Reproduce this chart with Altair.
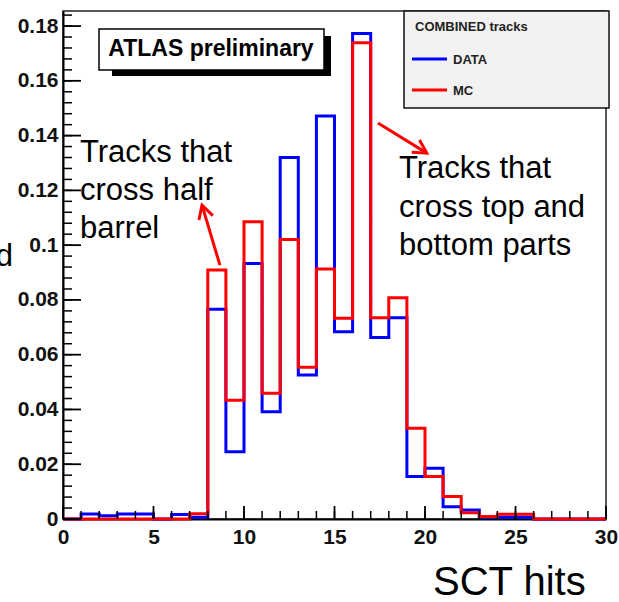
import altair as alt
import pandas as pd

# Histogram of SCT hits per track: unit-width bins from 0 to 30
lower_edges = list(range(30))
data_counts = [0.0, 0.0018, 0.0012, 0.0018, 0.0018, 0.0, 0.0016, 0.0006,
               0.0766, 0.0246, 0.0933, 0.0392, 0.1320, 0.0526, 0.1472,
               0.0684, 0.1773, 0.0663, 0.0735, 0.0155, 0.0185, 0.0045,
               0.0033, 0.0006, 0.0006, 0.0006, 0.0, 0.0, 0.0, 0.0]
mc_counts = [0.0, 0.0, 0.0, 0.0, 0.0, 0.0, 0.0, 0.0019,
             0.0909, 0.0434, 0.1085, 0.0459, 0.1021, 0.0554, 0.0913,
             0.0733, 0.1739, 0.0735, 0.0808, 0.0331, 0.0155, 0.0082,
             0.0023, 0.0009, 0.0017, 0.0017, 0.0, 0.0, 0.0, 0.0]
series_names = ["DATA", "MC"]
series_colors = ["#0000ff", "#ff0000"]

# Axis ticks (ROOT style: drawn inside the frame)
y_major = [0, 0.02, 0.04, 0.06, 0.08, 0.1, 0.12, 0.14, 0.16, 0.18]
y_minor = [i * 0.004 for i in range(47)]
x_major = [0, 5, 10, 15, 20, 25, 30]
x_minor = list(range(31))

# Arrow annotations: (x start, y start, x tip, y tip, head angle)
arrows = [
    (8.67, 0.0927, 7.68, 0.1146, 343),
    (17.4, 0.1446, 20.1, 0.1336, 122),
]

W, H = 543, 508
FONT = "Liberation Sans"
xscale = alt.Scale(domain=[0, 30], nice=False, zero=False)
yscale = alt.Scale(domain=[0, 0.1855], nice=False)

x_axis = alt.Axis(values=x_major, tickSize=0, labelFont=FONT, labelFontSize=21,
                  labelFontWeight="bold", labelColor="#111", labelPadding=7,
                  domainColor="black", domainWidth=2, grid=False, title=None,
                  labelFlush=False)
y_axis = alt.Axis(values=y_major, format="~g", tickSize=0, labelFont=FONT,
                  labelFontSize=21, labelFontWeight="bold", labelColor="#111",
                  labelPadding=5, domainColor="black", domainWidth=2,
                  grid=False, title=None)


def X(field):
    return alt.X(field, scale=xscale, axis=x_axis)


def Y(field):
    return alt.Y(field, scale=yscale, axis=y_axis)


def step_frame(counts, name):
    edges = lower_edges + [lower_edges[-1] + 1]
    vals = counts + [counts[-1]]
    return pd.DataFrame({"edge": edges, "value": vals, "series": name})


layers = []
for i, (counts, name) in enumerate([(data_counts, "DATA"), (mc_counts, "MC")]):
    layers.append(
        alt.Chart(step_frame(counts, name))
        .mark_line(interpolate="step-after", strokeWidth=3,
                   color=series_colors[i])
        .encode(x=X("edge:Q"), y=Y("value:Q"))
    )


# inward tick marks
def yticks(vals, length, width):
    return (alt.Chart(pd.DataFrame({"v": vals}))
            .mark_rule(color="black", strokeWidth=width)
            .encode(y=Y("v:Q"), x=alt.value(0), x2=alt.value(length)))


def xticks(vals, length, width):
    return (alt.Chart(pd.DataFrame({"v": vals}))
            .mark_rule(color="black", strokeWidth=width)
            .encode(x=X("v:Q"), y=alt.value(H), y2=alt.value(H - length)))


layers += [yticks(y_minor, 9, 1.5), yticks(y_major, 18, 1.8),
           xticks(x_minor, 8, 1.5), xticks(x_major, 13, 1.8)]

one = pd.DataFrame({"k": [0]})

# "ATLAS preliminary" box with drop shadow
layers.append(alt.Chart(one).mark_rect(color="black").encode(
    x=alt.value(49), x2=alt.value(268), y=alt.value(25), y2=alt.value(65)))
layers.append(alt.Chart(one).mark_rect(fill="white", stroke="black", strokeWidth=1.5).encode(
    x=alt.value(36), x2=alt.value(261), y=alt.value(18), y2=alt.value(59)))
layers.append(alt.Chart(one).mark_text(
    text="ATLAS preliminary", font=FONT, fontSize=23, fontWeight="bold",
    align="center", baseline="alphabetic", color="black").encode(
    x=alt.value(148), y=alt.value(45)))

# legend box
layers.append(alt.Chart(one).mark_rect(fill="#f2f2f2", stroke="#111", strokeWidth=1.5).encode(
    x=alt.value(341), x2=alt.value(546), y=alt.value(0), y2=alt.value(97)))
layers.append(alt.Chart(one).mark_text(
    text="COMBINED tracks", font=FONT, fontSize=13, fontWeight="bold",
    align="left", baseline="alphabetic", color="#222").encode(
    x=alt.value(352), y=alt.value(20)))
for i, name in enumerate(series_names):
    ly = 48 + 31 * i
    layers.append(alt.Chart(pd.DataFrame({"s": [name]})).mark_rule(
        color=series_colors[i], strokeWidth=3).encode(
        x=alt.value(349), x2=alt.value(384), y=alt.value(ly)))
    layers.append(alt.Chart(pd.DataFrame({"s": [name]})).mark_text(
        font=FONT, fontSize=13, fontWeight="bold", align="left",
        baseline="middle", color="#222").encode(
        text="s:N", x=alt.value(390), y=alt.value(ly + 1)))

# arrows
arrow_df = pd.DataFrame(arrows, columns=["x0", "y0", "x1", "y1", "ang"])
layers.append(alt.Chart(arrow_df).mark_rule(color="#ff0000", strokeWidth=3).encode(
    x=X("x0:Q"), y=Y("y0:Q"), x2="x1:Q", y2="y1:Q"))
layers.append(alt.Chart(arrow_df).mark_point(
    shape="M-0.55,1L0,0L0.55,1", filled=False, color="#ff0000",
    strokeWidth=3, size=700, opacity=1).encode(
    x=X("x1:Q"), y=Y("y1:Q"), angle=alt.Angle("ang:Q", scale=None)))

# text annotations
text_style = dict(font=FONT, fontSize=31, align="left", baseline="alphabetic",
                  color="black", lineBreak="\n")
layers.append(alt.Chart(one).mark_text(
    text="Tracks that\ncross half\nbarrel", lineHeight=38, **text_style).encode(
    x=alt.value(17), y=alt.value(151)))
layers.append(alt.Chart(one).mark_text(
    text="Tracks that\ncross top and\nbottom parts", lineHeight=38.5, **text_style).encode(
    x=alt.value(336), y=alt.value(167)))
layers.append(alt.Chart(one).mark_text(
    text="d", font=FONT, fontSize=31, align="right", baseline="alphabetic",
    color="black").encode(x=alt.value(-50), y=alt.value(255)))
layers.append(alt.Chart(one).mark_text(
    text="SCT hits", font=FONT, fontSize=40, align="left", baseline="alphabetic",
    color="black").encode(x=alt.value(370), y=alt.value(584)))

chart = (
    alt.layer(*layers)
    .properties(width=W, height=H, autosize="none",
                padding={"left": 63, "top": 11, "right": 13, "bottom": 83},
                background="white")
    .configure_view(stroke="#222", strokeWidth=1.5)
)

chart.save("out.html", embed_options={"renderer": "svg", "actions": False})
